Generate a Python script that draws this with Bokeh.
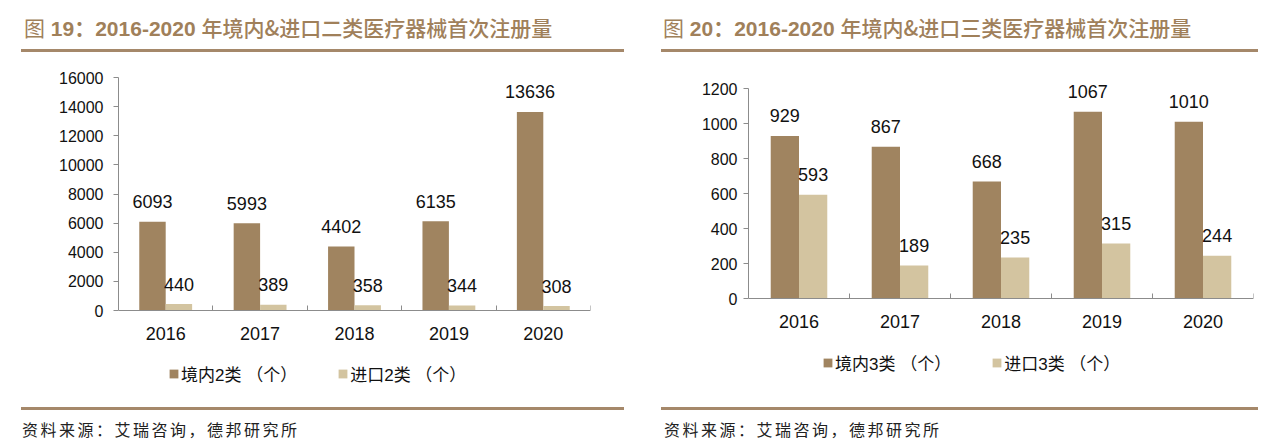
import html
from bokeh.plotting import figure
from bokeh.models import (ColumnDataSource, Range1d, LinearAxis, FixedTicker,
                          LabelSet, Legend, LegendItem, Div)
from bokeh.transform import dodge
from bokeh.layouts import row, column
from bokeh.embed import file_html
from bokeh.resources import INLINE
from bokeh.core.properties import value

# ---------------- data ----------------
years = ["2016", "2017", "2018", "2019", "2020"]

class2_domestic = [6093, 5993, 4402, 6135, 13636]
class2_import = [440, 389, 358, 344, 308]

class3_domestic = [929, 867, 668, 1067, 1010]
class3_import = [593, 189, 235, 315, 244]

left_y_ticks = [0, 2000, 4000, 6000, 8000, 10000, 12000, 14000, 16000]
right_y_ticks = [0, 200, 400, 600, 800, 1000, 1200]

left_title_num = "图 19："
right_title_num = "图 20："
title_years = "2016-2020 "
left_title_rest = "年境内&进口二类医疗器械首次注册量"
right_title_rest = "年境内&进口三类医疗器械首次注册量"

left_legend = ["境内2类 （个）", "进口2类 （个）"]
right_legend = ["境内3类 （个）", "进口3类 （个）"]

source_text = "资料来源：艾瑞咨询，德邦研究所"

# ---------------- style ----------------
DARK = "#A08460"
LIGHT = "#D3C4A0"
TITLE_C = "#A0805A"
RULE_C = "#A5886A"
AXIS_C = "#8C8C8C"
FONT = "'Liberation Sans', 'Noto Sans CJK SC'"
CSS_FONT = "'Liberation Sans','Noto Sans CJK SC',sans-serif"
FIG_H = 348
MB_TOP = 4
MB_BOTTOM = 4


def make_panel(dom, imp, yticks, legend_labels, width, mb_left, mb_right,
               top_px, zero_px, tick_font, ystandoff, xstandoff, leg_x, leg_y):
    """top_px / zero_px: pixel distance of the top tick / of zero below the frame top."""
    n = len(years)
    idx = list(range(n))  # category slots
    src = ColumnDataSource(dict(idx=idx, year=years, dom=dom, imp=imp,
                                dom_txt=[str(v) for v in dom],
                                imp_txt=[str(v) for v in imp]))
    frame_h = FIG_H - MB_TOP - MB_BOTTOM
    per_px = yticks[-1] / (zero_px - top_px)
    y_end = yticks[-1] + top_px * per_px
    y_start = -(frame_h - zero_px) * per_px
    p = figure(x_range=Range1d(-0.5, n - 0.5),
               y_range=Range1d(y_start, y_end),
               width=width, height=FIG_H, output_backend="svg", toolbar_location=None,
               x_axis_type=None, y_axis_type=None,
               min_border_left=mb_left, min_border_right=mb_right,
               min_border_top=MB_TOP, min_border_bottom=MB_BOTTOM)
    p.outline_line_color = None
    p.background_fill_color = "white"
    p.border_fill_color = "white"

    bw = 0.28
    r1 = p.vbar(x=dodge("idx", -bw / 2), top="dom", bottom=0, width=bw,
                source=src, fill_color=DARK, line_color=None)
    r2 = p.vbar(x=dodge("idx", bw / 2), top="imp", bottom=0, width=bw,
                source=src, fill_color=LIGHT, line_color=None)

    for col, txt, off in (("dom", "dom_txt", -bw / 2), ("imp", "imp_txt", bw / 2)):
        p.add_layout(LabelSet(x=dodge("idx", off), y=col, text=txt,
                              source=src, y_offset=20, text_align="center",
                              text_baseline="middle", text_font=value(FONT),
                              text_font_size="18px", text_color="#111111"))

    yaxis = LinearAxis(ticker=FixedTicker(ticks=yticks), bounds=(yticks[0], yticks[-1]))
    yaxis.axis_line_color = AXIS_C
    yaxis.major_tick_line_color = AXIS_C
    yaxis.major_tick_out = 5
    yaxis.major_tick_in = 0
    yaxis.minor_tick_line_color = None
    yaxis.major_label_standoff = ystandoff
    yaxis.major_label_text_font = FONT
    yaxis.major_label_text_font_size = tick_font
    yaxis.major_label_text_color = "#111111"
    p.add_layout(yaxis, "left")

    xaxis = LinearAxis(ticker=FixedTicker(ticks=idx, minor_ticks=[i + 0.5 for i in idx]),
                       major_label_overrides={i: y for i, y in zip(idx, years)},
                       fixed_location=yticks[0])
    xaxis.axis_line_color = AXIS_C
    xaxis.major_tick_line_color = None
    xaxis.minor_tick_line_color = AXIS_C
    xaxis.minor_tick_in = 5
    xaxis.minor_tick_out = 0
    xaxis.major_tick_in = 0
    xaxis.major_tick_out = 0
    xaxis.major_label_standoff = xstandoff
    xaxis.major_label_text_font = FONT
    xaxis.major_label_text_font_size = "18px"
    xaxis.major_label_text_color = "#111111"
    p.add_layout(xaxis, "below")

    legend = Legend(items=[LegendItem(label=legend_labels[0], renderers=[r1]),
                           LegendItem(label=legend_labels[1], renderers=[r2])],
                    location=(leg_x, leg_y), orientation="horizontal")
    legend.glyph_width = 11
    legend.glyph_height = 11
    legend.label_standoff = 2
    legend.spacing = 40
    legend.padding = 0
    legend.margin = 0
    legend.label_height = 20
    legend.border_line_color = None
    legend.background_fill_alpha = 0
    legend.label_text_font = FONT
    legend.label_text_font_size = "17px"
    legend.label_text_color = "#111111"
    p.add_layout(legend)
    return p


def title_div(width, rule_left, rule_width, text_left, num, rest):
    txt = (f'<div style="position:relative;width:{width}px;height:44px;">'
           f'<div style="position:absolute;left:{rule_left}px;top:41px;width:{rule_width}px;'
           f'height:3px;background:{RULE_C};"></div>'
           f'<div style="position:absolute;left:{text_left}px;top:0px;height:38px;line-height:38px;'
           f'font-family:{CSS_FONT};font-size:21px;color:{TITLE_C};white-space:nowrap;">'
           f'<span style="font-weight:normal;font-family:\'Noto Sans CJK SC\';">{html.escape(num[0])}</span>'
           f'<span style="font-weight:bold;">{html.escape(num[1:])}{html.escape(title_years)}</span>'
           f'<span style="font-weight:500;font-family:\'Noto Sans CJK SC\';">{html.escape(rest)}</span>'
           f'</div></div>')
    return Div(text=txt, width=width, height=44, margin=0)


def source_div(width, rule_left, rule_width, text_left):
    txt = (f'<div style="position:relative;width:{width}px;height:37px;">'
           f'<div style="position:absolute;left:{rule_left}px;top:7px;width:{rule_width}px;'
           f'height:3px;background:{RULE_C};"></div>'
           f'<div style="position:absolute;left:{text_left}px;top:19px;height:20px;line-height:20px;'
           f'font-family:\'Noto Sans CJK SC\';font-size:16px;letter-spacing:2.5px;color:#222;'
           f'white-space:nowrap;">{html.escape(source_text)}</div></div>')
    return Div(text=txt, width=width, height=37, margin=0)


LW, RW = 632, 621
# figure top sits at window y=52, frame top at 56, frame bottom at 396
# left: top tick at y=77, zero at y=310, legend row centred at y=376
p1 = make_panel(class2_domestic, class2_import, left_y_ticks, left_legend, LW,
                110, 50, 21, 254, "16px", 10, 16, 50, 10)
# right: top tick at y=88, zero at y=298, legend row centred at y=365
p2 = make_panel(class3_domestic, class3_import, right_y_ticks, right_legend, RW,
                108, 8, 32, 242, "16px", 6, 16, 74, 21)

left_col = column(title_div(LW, 13, 603, 16, left_title_num, left_title_rest), p1,
                  source_div(LW, 13, 603, 14))
right_col = column(title_div(RW, 21, 597, 23, right_title_num, right_title_rest), p2,
                   source_div(RW, 21, 597, 24))
layout = row(left_col, right_col, margin=(8, 0, 0, 8))

open("out.html", "w").write(file_html(layout, INLINE))
